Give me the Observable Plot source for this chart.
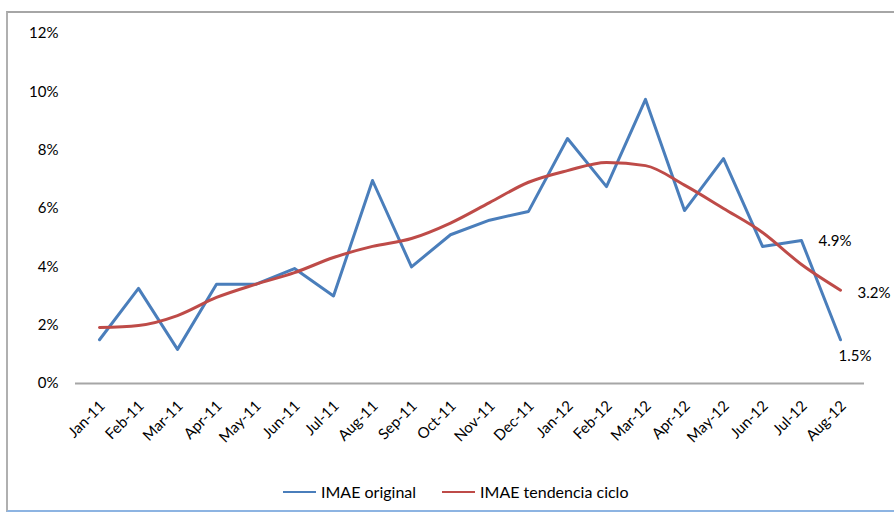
<!DOCTYPE html>
<html>
<head>
<meta charset="utf-8">
<script src="https://cdn.jsdelivr.net/npm/d3@7"></script>
<script src="https://cdn.jsdelivr.net/npm/@observablehq/plot@0.6"></script>
<style>
  html, body { margin: 0; padding: 0; background: #fff; }
  #wrap { position: relative; width: 894px; height: 515px; overflow: hidden; font-family: Lato, "Open Sans", sans-serif; }
  #frame { position: absolute; left: 6px; top: 11px; width: 900px; height: 501px;
           border-top: 2px solid #a6a6a6; border-left: 2px solid #b0b0b0; border-bottom: 2px solid #8db4e2; box-sizing: border-box; }
  #chart { position: absolute; left: 0; top: 0; }
  #legend { position: absolute; top: 482px; left: 283px; font-size: 16px; color: #000; display: flex; align-items: center; white-space: nowrap; }
  .sw { display: inline-block; width: 33px; height: 2px; margin-right: 5px; }
  .item { display: flex; align-items: center; }
</style>
</head>
<body>
<div id="wrap">
  <div id="frame"></div>
  <div id="chart"></div>
  <div id="legend">
    <span class="item"><span class="sw" style="background:#4a7ebb"></span>IMAE original</span>
    <span class="item" style="margin-left:26px"><span class="sw" style="background:#be4b48"></span>IMAE tendencia ciclo</span>
  </div>
</div>
<script>
const months = ["Jan-11","Feb-11","Mar-11","Apr-11","May-11","Jun-11","Jul-11","Aug-11","Sep-11","Oct-11","Nov-11","Dec-11","Jan-12","Feb-12","Mar-12","Apr-12","May-12","Jun-12","Jul-12","Aug-12"];
const original = [1.5,3.26,1.17,3.4,3.4,3.94,3.0,6.96,4.0,5.1,5.6,5.9,8.4,6.75,9.74,5.93,7.71,4.7,4.9,1.5];
const tendencia = [1.92,1.99,2.33,2.95,3.4,3.8,4.32,4.7,4.97,5.5,6.2,6.9,7.3,7.58,7.47,6.8,6.0,5.18,4.08,3.2];
const yTicks = [0,2,4,6,8,10,12];

const orig = months.map((m,i) => ({month: m, value: original[i]}));
const tend = months.map((m,i) => ({month: m, value: tendencia[i]}));
const lastIdx = months.length - 1;

const chart = Plot.plot({
  width: 894,
  height: 470,
  marginTop: 33,
  marginBottom: 87,
  marginLeft: 75,
  marginRight: 30,
  style: {fontFamily: "Lato, 'Open Sans', sans-serif", fontSize: "15px", color: "#000", background: "transparent"},
  x: {type: "point", domain: months, padding: 0.5, label: null},
  y: {domain: [0, 12], label: null},
  marks: [
    Plot.axisY({ticks: yTicks, tickSize: 0, tickPadding: 17, tickFormat: d => d + "%", label: null}),
    Plot.axisX({tickSize: 0, tickRotate: -45, tickPadding: 20, dx: 3, label: null}),
    Plot.ruleY([0], {stroke: "#a6a6a6", strokeWidth: 2}),
    Plot.line(orig, {x: "month", y: "value", stroke: "#4a7ebb", strokeWidth: 3}),
    Plot.line(tend, {x: "month", y: "value", stroke: "#be4b48", strokeWidth: 3, curve: "monotone-x"}),
    Plot.text([orig[lastIdx - 1]], {x: "month", y: "value", text: d => d.value.toFixed(1) + "%", textAnchor: "start", dx: 17, dy: 1, fill: "#000"}),
    Plot.text([tend[lastIdx]], {x: "month", y: "value", text: d => d.value.toFixed(1) + "%", textAnchor: "start", dx: 17, dy: 3, fill: "#000"}),
    Plot.text([orig[lastIdx]], {x: "month", y: "value", text: d => d.value.toFixed(1) + "%", textAnchor: "start", dx: -2, dy: 16, fill: "#000"})
  ]
});
document.getElementById("chart").appendChild(chart);
</script>
</body>
</html>
